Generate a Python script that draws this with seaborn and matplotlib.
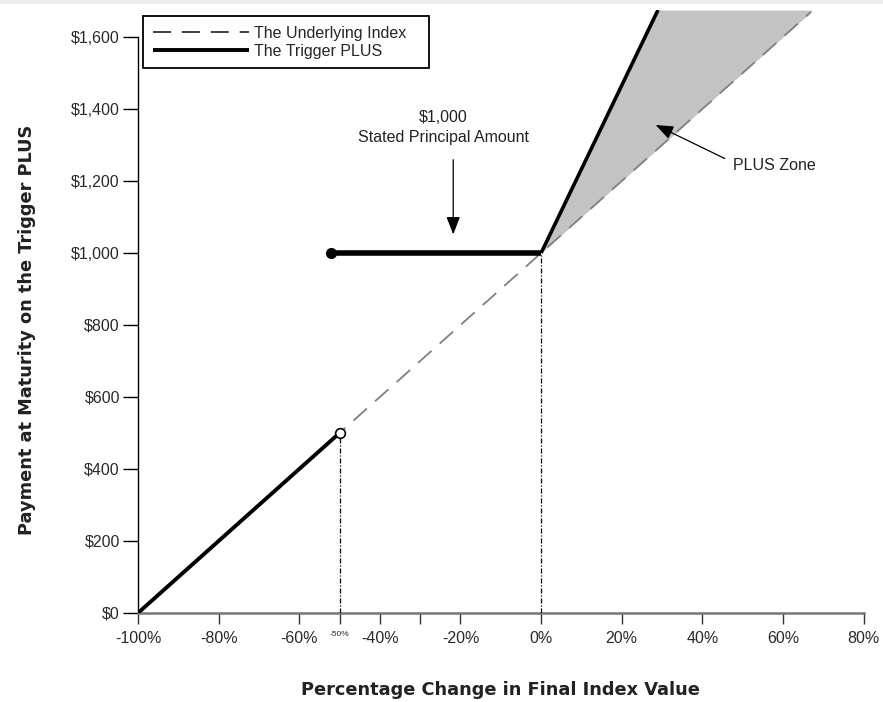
import matplotlib
matplotlib.use("Agg")
import matplotlib.pyplot as plt
import seaborn as sns
import pandas as pd

# ---- data ----
index_x = [-100, 67]
index_y = [0, 1670]

plus_low_x = [-100, -50]
plus_low_y = [0, 500]
plus_flat_x = [-52, 0]
plus_flat_y = [1000, 1000]
plus_up_x = [0, 29]
plus_up_y = [1000, 1675]

shade_x = [0, 29, 67]
shade_lo = [1000, 1290, 1670]
shade_hi = [1000, 1675, 1675]

x_ticks = [-100, -80, -60, -50, -40, -30, -20, 0, 20, 40, 60, 80]
x_labels = ["-100%", "-80%", "-60%", "-50%", "-40%", "", "-20%", "0%", "20%", "40%", "60%", "80%"]
y_ticks = [0, 200, 400, 600, 800, 1000, 1200, 1400, 1600]
y_labels = ["$0", "$200", "$400", "$600", "$800", "$1,000", "$1,200", "$1,400", "$1,600"]

sns.set_theme(style="white")
plt.rcParams["font.family"] = ["Liberation Sans", "DejaVu Sans"]

fig = plt.figure(figsize=(8.83, 7.02), dpi=100)
L, R, B, T = 138 / 883, 866 / 883, 1 - 613 / 702, 1 - 10 / 702
ax = fig.add_axes([L, B, R - L, T - B])

# faint band at the very top of the image
fig.patches.append(plt.Rectangle((0, 1 - 4 / 702), 1, 4 / 702, transform=fig.transFigure,
                                 color="#e9eef3", lw=0, zorder=0))

ax.fill_between(shade_x, shade_lo, shade_hi, color="#c3c3c3", lw=0, zorder=1)

df_idx = pd.DataFrame({"x": index_x, "y": index_y})
sns.lineplot(data=df_idx, x="x", y="y", ax=ax, color="#808080", lw=1.3,
             dashes=False, zorder=2, label="The Underlying Index")
ax.lines[-1].set_dashes([10, 6])

for xs, ys, lw, lab in [(plus_low_x, plus_low_y, 2.8, "The Trigger PLUS"),
                        (plus_flat_x, plus_flat_y, 4.0, None),
                        (plus_up_x, plus_up_y, 2.6, None)]:
    d = pd.DataFrame({"x": xs, "y": ys})
    sns.lineplot(data=d, x="x", y="y", ax=ax, color="black", lw=lw, zorder=4,
                 label=lab, legend=False)
    ax.lines[-1].set_solid_capstyle("butt")

# endpoint markers
ax.plot([plus_flat_x[0]], [plus_flat_y[0]], "o", ms=7, color="black", zorder=5)
ax.plot([plus_low_x[1]], [plus_low_y[1]], "o", ms=7, mfc="white", mec="black", mew=1.2, zorder=5)

# dash-dot verticals
ax.plot([plus_low_x[1], plus_low_x[1]], [0, plus_low_y[1]], color="black", lw=0.9,
        linestyle=(0, (4, 1.5, 1, 1.5)), zorder=3)
ax.plot([plus_flat_x[1], plus_flat_x[1]], [0, plus_flat_y[1]], color="black", lw=0.9,
        linestyle=(0, (4, 1.5, 1, 1.5)), zorder=3)

ax.set_xlim(-100, 80.6)
ax.set_ylim(0, 1675)

ax.set_xticks(x_ticks)
ax.set_xticklabels(x_labels, fontsize=11.5, color="#2a2a2a")
for t, lab in zip(ax.get_xticklabels(), x_labels):
    if lab == "-50%":
        t.set_fontsize(6)
ax.set_yticks(y_ticks)
ax.set_yticklabels(y_labels, fontsize=11.5, color="#2a2a2a")
ax.tick_params(axis="x", direction="out", length=8, width=1.0, color="#333333", pad=5, bottom=True)
ax.tick_params(axis="y", direction="out", length=11, width=1.0, color="black", pad=2, left=True)

for s in ["top", "right"]:
    ax.spines[s].set_visible(False)
ax.spines["left"].set_bounds(0, 1600)
ax.spines["left"].set_color("black")
ax.spines["left"].set_linewidth(1.0)
ax.spines["bottom"].set_bounds(-100, 80)
ax.spines["bottom"].set_color("#777777")
ax.spines["bottom"].set_linewidth(1.8)

ax.set_xlabel("")
ax.set_ylabel("")
fig.text(500 / 883, 1 - 690 / 702, "Percentage Change in Final Index Value",
         ha="center", va="center", fontsize=12.8, fontweight="bold", color="#222222",
         family="DejaVu Sans")
fig.text(27 / 883, 1 - 330 / 702, "Payment at Maturity on the Trigger PLUS",
         ha="center", va="center", rotation=90, fontsize=12.8, fontweight="bold", color="#222222",
         family="DejaVu Sans")

# annotations
ax.text(-24.3, 1376, "$1,000", ha="center", va="center", fontsize=11.5, color="#222222")
ax.text(-24.3, 1320, "Stated Principal Amount", ha="center", va="center", fontsize=11.5, color="#222222")
ax.annotate("", xy=(-21.8, 1044), xytext=(-21.8, 1267),
            arrowprops=dict(arrowstyle="-|>,head_length=0.9,head_width=0.35", color="black", lw=0.9))
ax.text(47.6, 1243, "PLUS Zone", ha="left", va="center", fontsize=11.5, color="#222222")
ax.annotate("", xy=(27.8, 1359), xytext=(46.2, 1259),
            arrowprops=dict(arrowstyle="-|>,head_length=0.9,head_width=0.35", color="black", lw=0.9))

h, l = ax.get_legend_handles_labels()
leg = ax.legend(h[:2], [lab + "   " for lab in l[:2]], loc="upper left",
                bbox_to_anchor=(0.007, 0.99),
                fontsize=11.5, frameon=True, fancybox=False, framealpha=1,
                handlelength=6.0, handletextpad=0.35, borderpad=0.6, labelspacing=0.2,
                borderaxespad=0)
leg.get_frame().set_edgecolor("black")
leg.get_frame().set_linewidth(1.3)
leg.get_lines()[0].set_color("#333333")
leg.get_lines()[0].set_dashes([10, 6])

fig.savefig("out.png", dpi=100)
